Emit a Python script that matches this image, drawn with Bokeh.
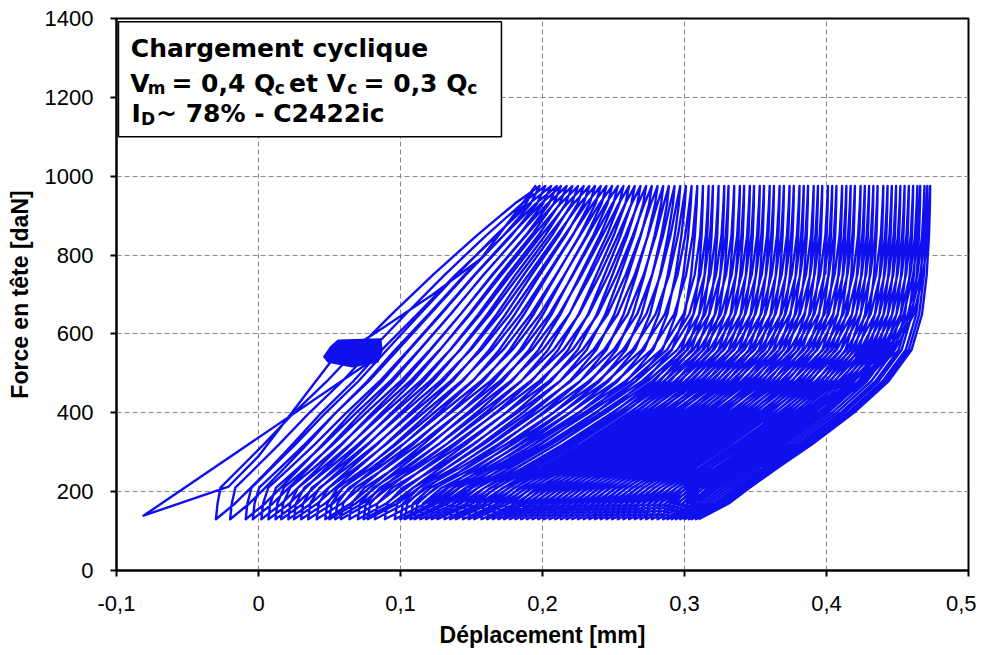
import numpy as np
from bokeh.plotting import figure
from bokeh.models import (Range1d, FixedTicker, CustomJSTickFormatter,
                          BoxAnnotation, Label)
from bokeh.embed import file_html
from bokeh.resources import INLINE

# ---------------- data ----------------
F_MIN = 130     # daN, force at the bottom of each cycle
F_MAX = 975     # daN, force at the top of each cycle

# displacement (mm) at the bottom (F_MIN) of each cycle, start of reloading
cycle_bottom_x = [
    -0.081, -0.030, -0.020, -0.009, -0.004, 0.002, 0.007, 0.012, 0.016, 0.021,
    0.025, 0.030, 0.035, 0.041, 0.047, 0.050, 0.054, 0.058, 0.064, 0.070,
    0.074, 0.077, 0.082, 0.089, 0.096, 0.100, 0.103, 0.107, 0.110, 0.114,
    0.118, 0.122, 0.126, 0.131, 0.135, 0.139, 0.144, 0.148, 0.152, 0.157,
    0.161, 0.165, 0.169, 0.173, 0.177, 0.181, 0.185, 0.189, 0.193, 0.197,
    0.201, 0.205, 0.209, 0.213, 0.217, 0.221, 0.225, 0.229, 0.233, 0.237,
    0.241, 0.245, 0.249, 0.253, 0.257, 0.261, 0.265, 0.269, 0.273, 0.277,
    0.281, 0.285, 0.288, 0.291, 0.294, 0.297, 0.300, 0.303, 0.305, 0.308,
    0.310]

# displacement (mm) at the top (F_MAX) of each cycle
cycle_top_x = [
    0.195, 0.198, 0.202, 0.206, 0.210, 0.213, 0.217, 0.221, 0.225, 0.229,
    0.233, 0.237, 0.241, 0.245, 0.249, 0.253, 0.257, 0.261, 0.265, 0.269,
    0.273, 0.277, 0.281, 0.285, 0.289, 0.293, 0.297, 0.301, 0.305, 0.309,
    0.313, 0.317, 0.320, 0.324, 0.328, 0.331, 0.335, 0.339, 0.342, 0.346,
    0.349, 0.353, 0.356, 0.360, 0.363, 0.367, 0.370, 0.374, 0.377, 0.381,
    0.384, 0.387, 0.391, 0.394, 0.397, 0.401, 0.404, 0.407, 0.411, 0.414,
    0.417, 0.420, 0.424, 0.427, 0.430, 0.433, 0.436, 0.440, 0.443, 0.446,
    0.449, 0.452, 0.455, 0.458, 0.461, 0.464, 0.466, 0.469, 0.471, 0.473]

# shape of one branch: force levels and relative position (0 = bottom, 1 = top)
branch_F = [130, 170, 210, 260, 320, 400, 480, 560, 650, 750, 850, 930, 975]
reload_u_early = [0.0, 0.005, 0.012, 0.07, 0.14, 0.23, 0.33, 0.42, 0.53,
                  0.66, 0.80, 0.92, 1.0]
reload_u_late = [0.0, 0.01, 0.08, 0.22, 0.37, 0.55, 0.72, 0.85, 0.93,
                 0.97, 0.99, 0.997, 1.0]
unload_u_early = [0.0, 0.06, 0.11, 0.17, 0.24, 0.33, 0.43, 0.52, 0.63,
                  0.75, 0.88, 0.97, 1.0]
unload_u_late = [0.0, 0.13, 0.22, 0.34, 0.49, 0.67, 0.82, 0.92, 0.965,
                 0.985, 0.995, 0.999, 1.0]

# first unloading from the initial small cycles, and first reloading
first_unload_x = [0.085, -0.081]
first_unload_F = [545, 139]
first_reload_x = [-0.081, -0.021, 0.000, 0.051, 0.087, 0.122, 0.157, 0.195]
first_reload_F = [139, 213, 290, 530, 614, 698, 792, 975]

# dense small-cycle clusters
blob1_x = [0.046, 0.051, 0.056, 0.086, 0.087, 0.084, 0.066, 0.049]
blob1_F = [542, 568, 584, 587, 558, 529, 517, 529]
blob2_x = [0.420, 0.425, 0.437, 0.447, 0.448, 0.440, 0.428, 0.421]
blob2_F = [550, 572, 583, 578, 550, 528, 522, 535]

x_ticks = [-0.1, 0.0, 0.1, 0.2, 0.3, 0.4, 0.5]
y_ticks = [0, 200, 400, 600, 800, 1000, 1200, 1400]

# ---------------- build the continuous record ----------------
xs = list(first_unload_x)
ys = list(first_unload_F)
xs += first_reload_x[1:]
ys += first_reload_F[1:]
n_cyc = len(cycle_top_x)
for k in range(n_cyc):
    w = min(1.0, k / 30.0)
    b, t, bn = cycle_bottom_x[k], cycle_top_x[k], cycle_bottom_x[k + 1]
    if k > 0:
        for F, ue, ul in zip(branch_F[1:], reload_u_early[1:], reload_u_late[1:]):
            u = (1 - w) * ue + w * ul
            xs.append(b + u * (t - b))
            ys.append(F)
    for F, ue, ul in list(zip(branch_F, unload_u_early, unload_u_late))[::-1][1:]:
        u = (1 - w) * ue + w * ul
        xs.append(bn + u * (t - bn))
        ys.append(F)

# ---------------- figure ----------------
p = figure(width=976, height=650, x_range=Range1d(-0.1, 0.5),
           y_range=Range1d(0, 1400), output_backend="svg",
           toolbar_location=None, min_border_left=116, min_border_right=8,
           min_border_top=18, min_border_bottom=80)
p.background_fill_color = "white"
p.border_fill_color = "white"
p.outline_line_color = "black"
p.outline_line_width = 2
p.outline_line_alpha = 1.0

BLUE = "#1010ee"
p.line(xs, ys, line_color=BLUE, line_width=2.4, line_join="round")
p.patch(blob1_x, blob1_F, fill_color=BLUE, line_color=BLUE, line_width=1.5)
p.patch(blob2_x, blob2_F, fill_color=BLUE, line_color=BLUE, line_width=1.5)

p.xaxis.ticker = FixedTicker(ticks=x_ticks)
p.yaxis.ticker = FixedTicker(ticks=y_ticks)
p.xaxis.formatter = CustomJSTickFormatter(
    code="if (Math.abs(tick) < 1e-9) { return '0'; } return tick.toFixed(1).replace('.', ',');")

for ax in (p.xaxis[0], p.yaxis[0]):
    ax.axis_line_color = "black"
    ax.axis_line_width = 2
    ax.major_tick_line_color = "black"
    ax.major_tick_line_width = 2
    ax.major_tick_in = 0
    ax.major_tick_out = 6
    ax.minor_tick_line_color = None
    ax.major_label_text_font = "Liberation Sans"
    ax.major_label_text_font_size = "22px"
    ax.major_label_text_color = "black"
    ax.axis_label_text_font = "Liberation Sans"
    ax.axis_label_text_font_size = "23px"
    ax.axis_label_text_font_style = "bold"
    ax.axis_label_text_color = "black"

p.xaxis.axis_label = "Déplacement [mm]"
p.yaxis.axis_label = "Force en tête [daN]"
p.xaxis.major_label_standoff = 19
p.xaxis.axis_label_standoff = 8
p.xaxis.axis_label_text_line_height = 0.8
p.yaxis.major_label_standoff = 17
p.yaxis.axis_label_standoff = 9

for g in (p.xgrid[0], p.ygrid[0]):
    g.grid_line_color = "#8a8a8a"
    g.grid_line_dash = "5 3"
    g.grid_line_width = 1

# ---------------- annotation box ----------------
p.add_layout(BoxAnnotation(left=-0.0986, right=0.1711, bottom=1100, top=1392,
                           fill_color="white", fill_alpha=1.0,
                           line_color="black", line_width=1.5, line_alpha=1.0))

def lab(x, y, text, size):
    p.add_layout(Label(x=x, y=y, text=text, text_font="DejaVu Sans",
                       text_font_style="bold", text_font_size=size,
                       text_color="black", text_align="left",
                       text_baseline="alphabetic"))

MAIN, SUB = "25px", "17px"
lab(-0.0899, 1324, "Chargement cyclique", MAIN)
lab(-0.0904, 1235, "V", MAIN)
lab(-0.0780, 1223, "m", SUB)
lab(-0.0613, 1235, "= 0,4 Q", MAIN)
lab(0.0115, 1223, "c", SUB)
lab(0.0215, 1235, "et V", MAIN)
lab(0.0625, 1223, "c", SUB)
lab(0.0740, 1235, "= 0,3 Q", MAIN)
lab(0.1470, 1223, "c", SUB)
lab(-0.0894, 1158, "I", MAIN)
lab(-0.0828, 1146, "D", SUB)
lab(-0.0722, 1158, "~ 78% - C2422ic", MAIN)

open("out.html", "w").write(file_html(p, INLINE))
